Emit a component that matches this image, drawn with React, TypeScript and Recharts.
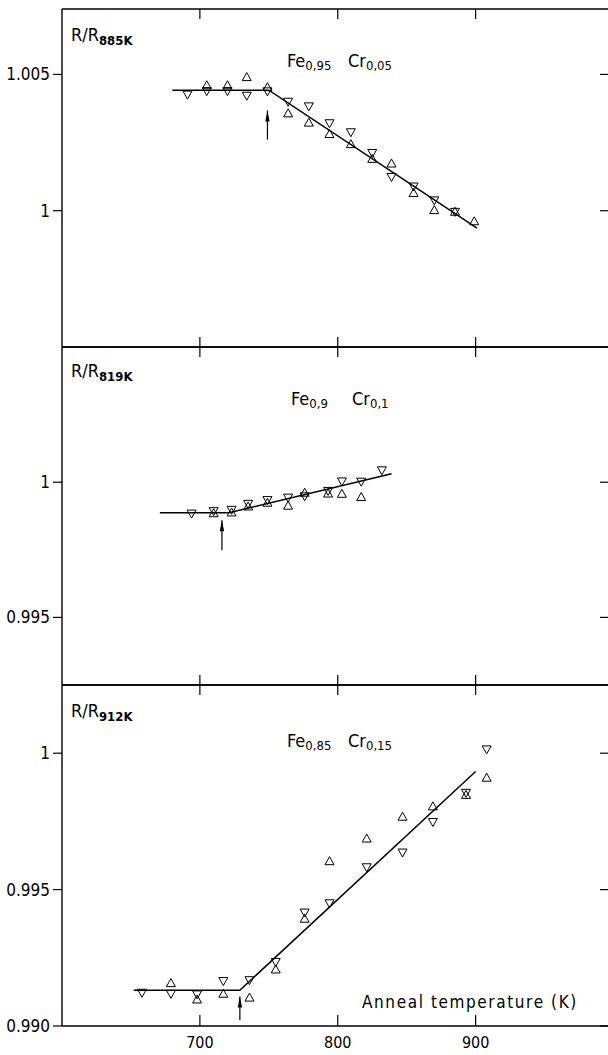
import React from "react";
import { ScatterChart, Scatter, XAxis, YAxis } from "recharts";

const FONT = '"DejaVu Sans Condensed", "DejaVu Sans", sans-serif';

const xTicks = [700, 800, 900];
const xDomain: [number, number] = [600, 996];

// Fe0.95 Cr0.05, normalised to R(885K)
const fe95Up = [
  { x: 705, y: 1.00462 }, { x: 720, y: 1.00462 }, { x: 734, y: 1.00492 },
  { x: 749, y: 1.00455 }, { x: 764, y: 1.00359 }, { x: 779, y: 1.00325 },
  { x: 794, y: 1.00283 }, { x: 809.5, y: 1.00246 }, { x: 825, y: 1.00192 },
  { x: 839, y: 1.00175 }, { x: 855, y: 1.00067 }, { x: 870, y: 1.00004 },
  { x: 885, y: 0.99998 }, { x: 899, y: 0.99963 },
];
const fe95Down = [
  { x: 691, y: 1.00424 }, { x: 705, y: 1.00437 }, { x: 720, y: 1.00437 },
  { x: 734, y: 1.0042 }, { x: 749, y: 1.00436 }, { x: 764, y: 1.00398 },
  { x: 779, y: 1.00381 }, { x: 794, y: 1.00319 }, { x: 809.5, y: 1.00286 },
  { x: 825, y: 1.0021 }, { x: 839, y: 1.00122 }, { x: 855, y: 1.00087 },
  { x: 870, y: 1.00036 }, { x: 885, y: 0.99994 },
];
const fe95Fit = [{ x: 680, y: 1.00442 }, { x: 750, y: 1.00442 }, { x: 901, y: 0.99936 }];
const fe95Arrow = [{ x: 749, y: 1.00261 }, { x: 749, y: 1.00368, head: true }];

// Fe0.9 Cr0.1, normalised to R(819K)
const fe90Up = [
  { x: 710, y: 0.99887 }, { x: 723, y: 0.9989 }, { x: 735, y: 0.99912 },
  { x: 749, y: 0.99926 }, { x: 764, y: 0.99915 }, { x: 776, y: 0.99963 },
  { x: 793, y: 0.9996 }, { x: 803, y: 0.99959 }, { x: 817, y: 0.99947 },
];
const fe90Down = [
  { x: 694, y: 0.99882 }, { x: 710, y: 0.99891 }, { x: 723, y: 0.99896 },
  { x: 735, y: 0.99918 }, { x: 749, y: 0.99932 }, { x: 764, y: 0.99941 },
  { x: 776, y: 0.99946 }, { x: 793, y: 0.99966 }, { x: 803, y: 1.00001 },
  { x: 817, y: 1.0 }, { x: 832, y: 1.00042 },
];
const fe90Fit = [{ x: 671, y: 0.99887 }, { x: 721, y: 0.99887 }, { x: 839, y: 1.00031 }];
const fe90Arrow = [{ x: 716, y: 0.99748 }, { x: 716, y: 0.99859, head: true }];

// Fe0.85 Cr0.15, normalised to R(912K)
const fe85Up = [
  { x: 679, y: 0.99159 }, { x: 698, y: 0.99099 }, { x: 717, y: 0.9912 },
  { x: 736, y: 0.99106 }, { x: 755, y: 0.99209 }, { x: 776, y: 0.99395 },
  { x: 794, y: 0.99606 }, { x: 821, y: 0.99689 }, { x: 847, y: 0.99769 },
  { x: 869, y: 0.99807 }, { x: 893, y: 0.99849 }, { x: 908, y: 0.99912 },
];
const fe85Down = [
  { x: 658, y: 0.9912 }, { x: 679, y: 0.99116 }, { x: 698, y: 0.99114 },
  { x: 717, y: 0.99163 }, { x: 736, y: 0.99166 }, { x: 755, y: 0.99233 },
  { x: 776, y: 0.99414 }, { x: 794, y: 0.99448 }, { x: 821, y: 0.9958 },
  { x: 847, y: 0.99634 }, { x: 869, y: 0.99746 }, { x: 893, y: 0.99853 },
  { x: 908, y: 1.00012 },
];
const fe85Fit = [{ x: 652, y: 0.99131 }, { x: 729, y: 0.99131 }, { x: 900, y: 0.99933 }];
const fe85Arrow = [{ x: 729, y: 0.99021 }, { x: 729, y: 0.99108, head: true }];

const upTri = (p: any) => (
  <polygon
    points={`${p.cx - 4.5},${p.cy + 4} ${p.cx + 4.5},${p.cy + 4} ${p.cx},${p.cy - 4}`}
    fill="none"
    stroke="#000"
    strokeWidth={1}
  />
);
const downTri = (p: any) => (
  <polygon
    points={`${p.cx - 4.5},${p.cy - 4} ${p.cx + 4.5},${p.cy - 4} ${p.cx},${p.cy + 4}`}
    fill="none"
    stroke="#000"
    strokeWidth={1}
  />
);
const noDot = () => <g />;
const arrowHead = (p: any) =>
  p.payload && p.payload.head ? (
    <polygon points={`${p.cx},${p.cy} ${p.cx - 2.2},${p.cy + 11} ${p.cx + 2.2},${p.cy + 11}`} fill="#000" />
  ) : (
    <g />
  );

const yFmt = (v: number) => (v === 1 ? "1" : v.toFixed(3));

const bottomTick = (p: any) => (
  <g>
    <line x1={p.x} x2={p.x} y1={p.y} y2={p.y - 11} stroke="#000" strokeWidth={1.2} />
    <text x={p.x} y={p.y + 22} textAnchor="middle" fontSize={16} fontFamily={FONT} fill="#000">
      {p.payload.value}
    </text>
  </g>
);

interface PanelProps {
  top: number;
  height: number;
  xLabels?: boolean;
  yDomain: [number, number];
  yTicks: number[];
  up: { x: number; y: number }[];
  down: { x: number; y: number }[];
  fit: { x: number; y: number }[];
  arrow: { x: number; y: number; head?: boolean }[];
}

function Panel({ top, height, xLabels, yDomain, yTicks, up, down, fit, arrow }: PanelProps) {
  const axisLine = { stroke: "#000", strokeWidth: 1.4 };
  const tickLine = { stroke: "#000", strokeWidth: 1.2 };
  return (
    <div style={{ position: "absolute", left: 0, top }}>
      <ScatterChart width={608} height={height} margin={{ top: 4, right: 0, bottom: 4, left: 8 }}>
        <XAxis
          xAxisId="t"
          orientation="top"
          type="number"
          dataKey="x"
          domain={xDomain}
          ticks={xTicks}
          allowDataOverflow
          mirror
          height={1}
          tickSize={10}
          axisLine={axisLine}
          tickLine={tickLine}
          tick={noDot}
        />
        {xLabels ? (
          <XAxis
            type="number"
            dataKey="x"
            domain={xDomain}
            ticks={xTicks}
            allowDataOverflow
            height={31}
            tickSize={0}
            tickMargin={0}
            tickLine={false}
            axisLine={axisLine}
            tick={bottomTick}
          />
        ) : (
          <XAxis
            type="number"
            dataKey="x"
            domain={xDomain}
            ticks={xTicks}
            allowDataOverflow
            mirror
            height={1}
            tickSize={10}
            axisLine={axisLine}
            tickLine={tickLine}
            tick={noDot}
          />
        )}
        <YAxis
          type="number"
          dataKey="y"
          domain={yDomain}
          ticks={yTicks}
          allowDataOverflow
          width={54}
          tickSize={9}
          tickMargin={3}
          axisLine={axisLine}
          tickLine={tickLine}
          tickFormatter={yFmt}
          tick={{ fill: "#000", fontSize: 17, fontFamily: FONT }}
        />
        <YAxis
          yAxisId="r"
          orientation="right"
          type="number"
          dataKey="y"
          domain={yDomain}
          ticks={yTicks}
          allowDataOverflow
          width={1}
          mirror
          tickSize={8}
          axisLine={false}
          tickLine={tickLine}
          tick={noDot}
        />
        <Scatter data={fit} line={{ stroke: "#000", strokeWidth: 1.5 }} shape={noDot} isAnimationActive={false} />
        <Scatter data={arrow} line={{ stroke: "#000", strokeWidth: 1.2 }} shape={arrowHead} isAnimationActive={false} />
        <Scatter data={up} shape={upTri} isAnimationActive={false} />
        <Scatter data={down} shape={downTri} isAnimationActive={false} />
      </ScatterChart>
    </div>
  );
}

function Formula({ x, y, a, b }: { x: number; y: number; a: string; b: string }) {
  return (
    <>
      <text x={x} y={y} fontSize={18}>
        Fe<tspan fontSize={13} dy={3}>{a}</tspan>
      </text>
      <text x={x + 61} y={y} fontSize={18}>
        Cr<tspan fontSize={13} dy={3}>{b}</tspan>
      </text>
    </>
  );
}

function RLabel({ y, sub }: { y: number; sub: string }) {
  return (
    <text x={71} y={y} fontSize={18}>
      R/R<tspan fontSize={13} fontWeight="bold" dy={4}>{sub}</tspan>
    </text>
  );
}

export default function App() {
  return (
    <div style={{ position: "absolute", left: 0, top: 0, width: 608, height: 1055, background: "#fff" }}>
      <Panel top={5} height={346} yDomain={[0.995, 1.0074]} yTicks={[1, 1.005]} up={fe95Up} down={fe95Down} fit={fe95Fit} arrow={fe95Arrow} />
      <Panel top={343} height={346} yDomain={[0.9925, 1.005]} yTicks={[0.995, 1]} up={fe90Up} down={fe90Down} fit={fe90Fit} arrow={fe90Arrow} />
      <Panel top={681} height={380} xLabels yDomain={[0.99, 1.0025]} yTicks={[0.99, 0.995, 1]} up={fe85Up} down={fe85Down} fit={fe85Fit} arrow={fe85Arrow} />
      <svg
        width={608}
        height={1055}
        style={{ position: "absolute", left: 0, top: 0, pointerEvents: "none" }}
        fontFamily={FONT}
        fill="#000"
      >
        <RLabel y={40.5} sub="885K" />
        <RLabel y={376.5} sub="819K" />
        <RLabel y={717} sub="912K" />
        <Formula x={287} y={66.5} a="0,95" b="0,05" />
        <Formula x={291} y={405} a="0,9" b="0,1" />
        <Formula x={287} y={747} a="0,85" b="0,15" />
        <text x={362} y={1008} fontSize={17} letterSpacing={1.6}>
          Anneal temperature (K)
        </text>
      </svg>
    </div>
  );
}
